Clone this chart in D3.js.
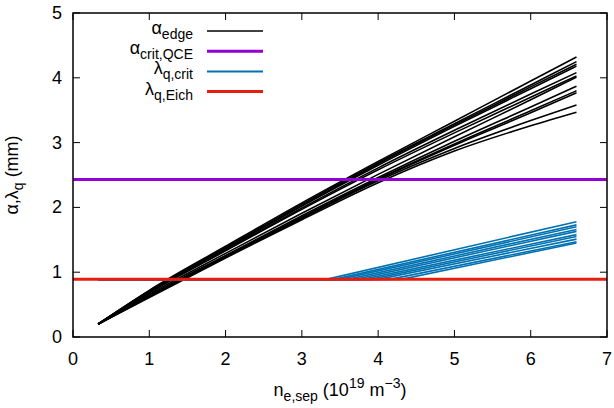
<!DOCTYPE html>
<html>
<head>
<meta charset="utf-8">
<script src="https://cdn.jsdelivr.net/npm/d3@7"></script>
<style>
  body { margin: 0; background: #fff; }
  text { font-family: "Liberation Sans", Arial, sans-serif; fill: #000; }
</style>
</head>
<body>
<script>
var width = 614, height = 408;
var margin = { top: 13, right: 7, bottom: 71, left: 73 };

// density grid (10^19 m^-3) where the alpha_edge curves are sampled
var nGrid = [0.33, 1, 2, 3, 4, 5, 6, 6.6];

// alpha_edge (mm), one row per scan
var alphaEdge = [
  [0.20, 0.72, 1.40, 2.07, 2.71, 3.33, 3.95, 4.32],
  [0.20, 0.71, 1.38, 2.05, 2.69, 3.29, 3.89, 4.25],
  [0.20, 0.71, 1.37, 2.03, 2.67, 3.27, 3.86, 4.21],
  [0.20, 0.70, 1.36, 2.02, 2.65, 3.25, 3.83, 4.18],
  [0.20, 0.69, 1.34, 1.99, 2.61, 3.19, 3.75, 4.08],
  [0.20, 0.68, 1.33, 1.97, 2.58, 3.15, 3.70, 4.03],
  [0.20, 0.66, 1.29, 1.91, 2.51, 3.09, 3.66, 4.01],
  [0.20, 0.64, 1.26, 1.87, 2.46, 3.02, 3.55, 3.87],
  [0.20, 0.63, 1.25, 1.85, 2.44, 2.98, 3.49, 3.80],
  [0.20, 0.63, 1.24, 1.84, 2.43, 2.96, 3.46, 3.77],
  [0.20, 0.62, 1.23, 1.83, 2.41, 2.91, 3.34, 3.58],
  [0.20, 0.61, 1.22, 1.81, 2.38, 2.87, 3.26, 3.47]
];

var alphaCritQCE = 2.43;
var lambdaEich = 0.89;

// lambda_q,crit: flat at lambda_Eich until the break density, then rising to the end value
var lambdaStartN = 0.33;
var lambdaEndN = 6.6;
var lambdaBreakN = [3.32, 3.42, 3.50, 3.60, 3.70, 3.80, 3.90, 4.00, 4.15, 4.30];
var lambdaEnd = [1.78, 1.73, 1.70, 1.66, 1.63, 1.58, 1.55, 1.51, 1.47, 1.45];

var xTicks = [0, 1, 2, 3, 4, 5, 6, 7];
var yTicks = [0, 1, 2, 3, 4, 5];

var colPurple = "#9400d3", colBlue = "#0072b2", colRed = "#e51e10";

var svg = d3.select("body").append("svg")
  .attr("width", width)
  .attr("height", height);

var x = d3.scaleLinear().domain([0, 7]).range([margin.left, width - margin.right]);
var y = d3.scaleLinear().domain([0, 5]).range([height - margin.bottom, margin.top]);

var line = d3.line()
  .x(function(d) { return x(d[0]); })
  .y(function(d) { return y(d[1]); })
  .curve(d3.curveMonotoneX);

var plot = svg.append("g");

// alpha_edge curves
plot.selectAll(".alpha")
  .data(alphaEdge)
  .enter().append("path")
  .attr("class", "alpha")
  .attr("fill", "none")
  .attr("stroke", "#000")
  .attr("stroke-width", 1.6)
  .attr("d", function(row) { return line(row.map(function(v, i) { return [nGrid[i], v]; })); });

// alpha_crit,QCE
plot.append("path")
  .attr("fill", "none")
  .attr("stroke", colPurple)
  .attr("stroke-width", 3)
  .attr("d", d3.line()([[x(0), y(alphaCritQCE)], [x(7), y(alphaCritQCE)]]));

// lambda_q,crit
plot.selectAll(".lam")
  .data(lambdaBreakN)
  .enter().append("path")
  .attr("class", "lam")
  .attr("fill", "none")
  .attr("stroke", colBlue)
  .attr("stroke-width", 1.6)
  .attr("d", function(b, i) {
    return d3.line()([
      [x(lambdaStartN), y(lambdaEich)],
      [x(b), y(lambdaEich)],
      [x(lambdaEndN), y(lambdaEnd[i])]
    ]);
  });

// lambda_q,Eich
plot.append("path")
  .attr("fill", "none")
  .attr("stroke", colRed)
  .attr("stroke-width", 3)
  .attr("d", d3.line()([[x(0), y(lambdaEich)], [x(7), y(lambdaEich)]]));

// frame + inward ticks on all sides
var frame = svg.append("g");
frame.append("rect")
  .attr("x", x(0)).attr("y", y(5))
  .attr("width", x(7) - x(0)).attr("height", y(0) - y(5))
  .attr("fill", "none").attr("stroke", "#000").attr("stroke-width", 1.5);

var tickLen = 7;
xTicks.forEach(function(t) {
  frame.append("line").attr("x1", x(t)).attr("x2", x(t))
    .attr("y1", y(0)).attr("y2", y(0) - tickLen).attr("stroke", "#000");
  frame.append("line").attr("x1", x(t)).attr("x2", x(t))
    .attr("y1", y(5)).attr("y2", y(5) + tickLen).attr("stroke", "#000");
  svg.append("text")
    .attr("x", x(t)).attr("y", y(0) + 28)
    .attr("text-anchor", "middle")
    .style("font-size", "18px")
    .text(t);
});
yTicks.forEach(function(t) {
  frame.append("line").attr("x1", x(0)).attr("x2", x(0) + tickLen)
    .attr("y1", y(t)).attr("y2", y(t)).attr("stroke", "#000");
  frame.append("line").attr("x1", x(7)).attr("x2", x(7) - tickLen)
    .attr("y1", y(t)).attr("y2", y(t)).attr("stroke", "#000");
  svg.append("text")
    .attr("x", x(0) - 11).attr("y", y(t) + 6)
    .attr("text-anchor", "end")
    .style("font-size", "18px")
    .text(t);
});

// axis titles
var xt = svg.append("text")
  .attr("x", (x(0) + x(7)) / 2).attr("y", 396)
  .attr("text-anchor", "middle")
  .style("font-size", "18px");
xt.append("tspan").text("n");
xt.append("tspan").attr("dy", 5).style("font-size", "14px").text("e,sep");
xt.append("tspan").attr("dy", -5).text(" (10");
xt.append("tspan").attr("dy", -8).style("font-size", "14px").text("19");
xt.append("tspan").attr("dy", 8).text(" m");
xt.append("tspan").attr("dy", -8).style("font-size", "14px").text("\u22123");
xt.append("tspan").attr("dy", 8).text(")");

var yt = svg.append("text")
  .attr("transform", "translate(18," + ((y(0) + y(5)) / 2) + ") rotate(-90)")
  .attr("text-anchor", "middle")
  .style("font-size", "18px");
yt.append("tspan").text("\u03b1,\u03bb");
yt.append("tspan").attr("dy", 5).style("font-size", "14px").text("q");
yt.append("tspan").attr("dy", -5).text(" (mm)");

// legend
var legendRows = [
  { main: "\u03b1", sub: "edge", color: "#000", w: 1.6 },
  { main: "\u03b1", sub: "crit,QCE", color: colPurple, w: 3 },
  { main: "\u03bb", sub: "q,crit", color: colBlue, w: 2 },
  { main: "\u03bb", sub: "q,Eich", color: colRed, w: 3 }
];
var legend = svg.append("g");
legendRows.forEach(function(r, i) {
  var ly = 31 + i * 20.2;
  legend.append("line")
    .attr("x1", 207).attr("x2", 263)
    .attr("y1", ly).attr("y2", ly)
    .attr("stroke", r.color).attr("stroke-width", r.w);
  var t = legend.append("text")
    .attr("x", 193).attr("y", ly + 3)
    .attr("text-anchor", "end")
    .style("font-size", "18px");
  t.append("tspan").text(r.main);
  t.append("tspan").attr("dy", 5).style("font-size", "14px").text(r.sub);
});
</script>
</body>
</html>
